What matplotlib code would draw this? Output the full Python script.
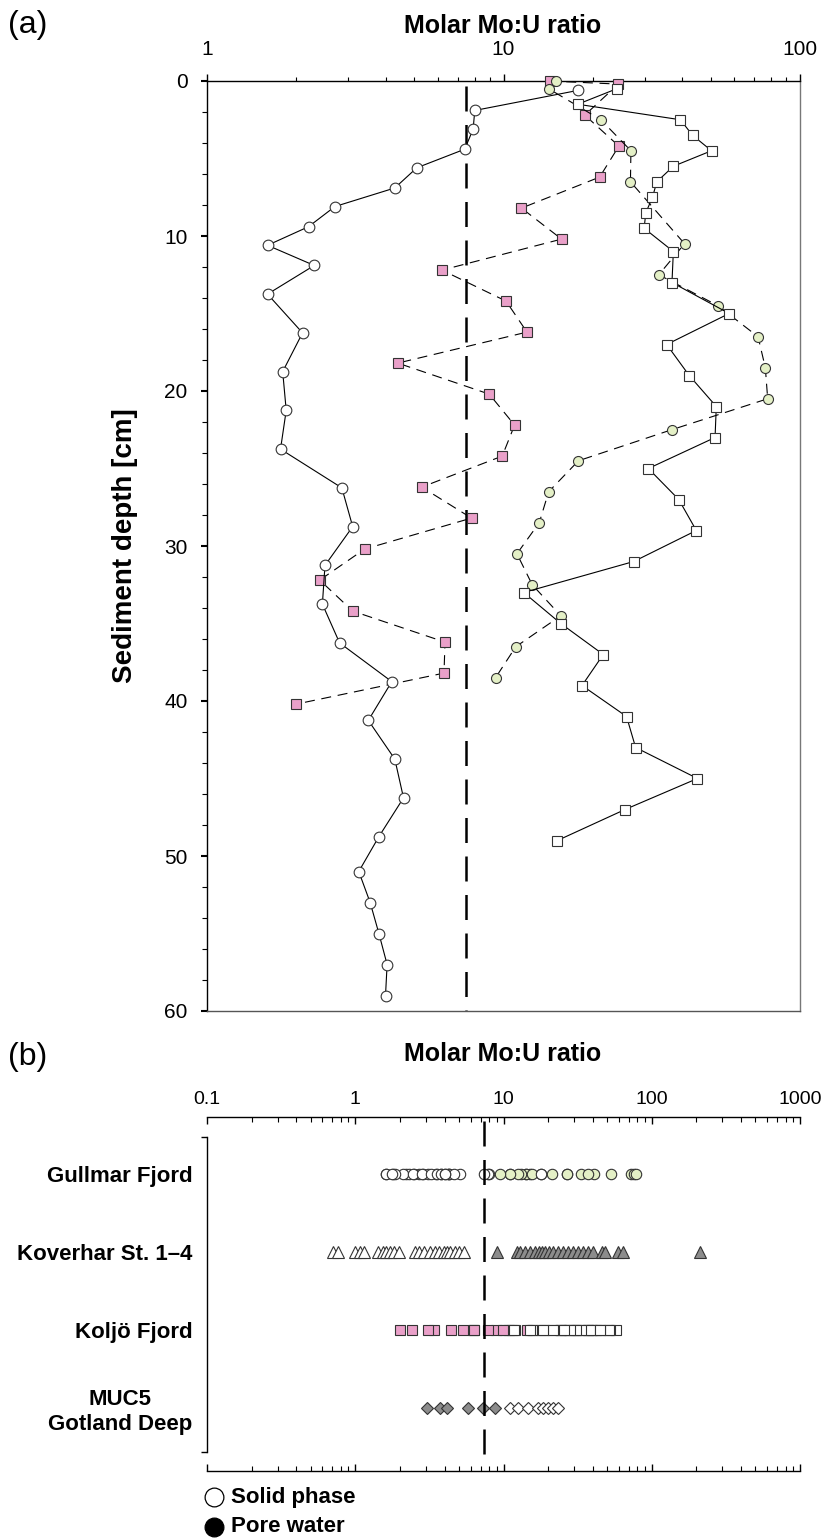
import matplotlib
matplotlib.use("Agg")
import matplotlib.pyplot as plt
from matplotlib.ticker import NullFormatter, FixedLocator
from matplotlib.lines import Line2D
import matplotlib.transforms as mtransforms

plt.rcParams['font.family'] = ['Liberation Sans', 'DejaVu Sans']

# ---- panel (a): depth profiles ----
# Gullmar Fjord, solid phase (open circles)
gf_solid_depth = [0.6, 1.9, 3.1, 4.4, 5.6, 6.9, 8.1, 9.4, 10.6, 11.9,
                  13.75, 16.25, 18.75, 21.25, 23.75, 26.25, 28.75, 31.25, 33.75, 36.25,
                  38.75, 41.25, 43.75, 46.25, 48.75, 51, 53, 55, 57, 59]
gf_solid = [17.9, 8.0, 7.9, 7.4, 5.1, 4.3, 2.7, 2.2, 1.6, 2.3,
            1.6, 2.1, 1.8, 1.85, 1.77, 2.85, 3.1, 2.5, 2.45, 2.8,
            4.2, 3.5, 4.3, 4.6, 3.8, 3.25, 3.55, 3.8, 4.05, 4.0]

# Gullmar Fjord, pore water (green circles)
gf_pw_depth = [0, 0.5, 2.5, 4.5, 6.5, 10.5, 12.5, 14.5, 16.5, 18.5,
               20.5, 22.5, 24.5, 26.5, 28.5, 30.5, 32.5, 34.5, 36.5, 38.5]
gf_pw = [15.0, 14.2, 21.3, 26.9, 26.8, 40.8, 33.4, 52.9, 72.2, 76.4,
         77.8, 36.9, 17.9, 14.2, 13.2, 11.1, 12.5, 15.6, 11.0, 9.4]

# Koljö Fjord, solid phase (open squares)
kf_solid_depth = [0.5, 1.5, 2.5, 3.5, 4.5, 5.5, 6.5, 7.5, 8.5, 9.5,
                  11, 13, 15, 17, 19, 21, 23, 25, 27, 29,
                  31, 33, 35, 37, 39, 41, 43, 45, 47, 49]
kf_solid = [24.1, 17.8, 39.5, 43.4, 50.3, 37.4, 32.9, 31.8, 30.2, 29.8,
            37.4, 37.0, 57.7, 35.5, 42.3, 52.2, 51.7, 30.8, 39.0, 44.7,
            27.5, 11.7, 15.6, 21.7, 18.4, 26.0, 27.9, 45.1, 25.7, 15.2]

# Koljö Fjord, pore water (pink squares)
kf_pw_depth = [0, 0.2, 2.2, 4.2, 6.2, 8.2, 10.2, 12.2, 14.2, 16.2, 18.2,
               20.2, 22.2, 24.2, 26.2, 28.2, 30.2, 32.2, 34.2, 36.2, 38.2, 40.2]
kf_pw = [14.3, 24.4, 18.8, 24.5, 21.1, 11.5, 15.7, 6.2, 10.2, 12.0, 4.4,
         8.95, 10.9, 9.9, 5.3, 7.8, 3.4, 2.4, 3.1, 6.35, 6.3, 2.0]

# ---- panel (b): other sites ----
kov_solid = [0.71, 0.76, 1.0, 1.07, 1.15, 1.43, 1.53, 1.61, 1.71, 1.82, 1.96,
             2.53, 2.71, 2.91, 3.19, 3.45, 3.69, 3.97, 4.14, 4.36, 4.71, 5.04, 5.42]
kov_pw = [9.1, 12.3, 13.0, 14.0, 15.1, 16.3, 17.4, 18.1, 19.0, 20.4, 21.7, 23.4,
          25.3, 27.4, 29.6, 32.0, 34.5, 37.3, 40.4, 45.9, 48.4, 59.6, 63.6, 212]
muc_pw = [3.03, 3.73, 4.14, 5.79, 7.31, 8.77]
muc_solid = [11.1, 12.6, 14.7, 17.2, 18.6, 20.1, 21.7, 23.4]

sites = ['Gullmar Fjord', 'Koverhar St. 1\u20134', 'Koljö Fjord', 'MUC5\nGotland Deep']
seawater_ratio = 7.45

pink = '#EAA0C9'
green = '#E4F0C6'
grey = '#8C8C8C'
edge = '#333333'

W, H = 838, 1540
fig = plt.figure(figsize=(W / 100, H / 100), dpi=100)


def fx(x):
    return x / W


def fy(y):
    return 1 - y / H


# ================= panel (a) =================
ax = fig.add_axes([fx(207), fy(1011), fx(800) - fx(207), fy(81) - fy(1011)])
ax.set_xscale('log')
ax.set_xlim(1, 100)
ax.set_ylim(60, 0)

ax.plot([seawater_ratio, seawater_ratio], [0.3, 60], color='black', lw=1.8,
        dashes=(10, 5.4), zorder=1)

ax.plot(kf_pw, kf_pw_depth, color='black', lw=0.8, dashes=(9, 6), marker='s', ms=7.2,
        mfc=pink, mec=edge, mew=0.8, clip_on=False, zorder=3)
ax.plot(gf_pw, gf_pw_depth, color='black', lw=0.8, dashes=(9, 6), marker='o', ms=7.2,
        mfc=green, mec=edge, mew=0.8, clip_on=False, zorder=4)
ax.plot(kf_solid, kf_solid_depth, color='black', lw=0.8, marker='s', ms=7.7,
        mfc='white', mec=edge, mew=0.8, clip_on=False, zorder=5)
ax.plot(gf_solid, gf_solid_depth, color='black', lw=0.8, marker='o', ms=7.7,
        mfc='white', mec=edge, mew=0.8, clip_on=False, zorder=6)

ax.xaxis.tick_top()
ax.set_xticks([1, 10, 100])
ax.set_xticklabels(['1', '10', '100'])
ax.xaxis.set_minor_formatter(NullFormatter())
ax.tick_params(axis='x', which='major', direction='out', length=5, width=1,
               pad=11, labelsize=15, top=True, bottom=False)
ax.tick_params(axis='x', which='minor', direction='out', length=3.2, width=0.8,
               top=True, bottom=False)
ax.set_yticks(range(0, 61, 10))
ax.yaxis.set_minor_locator(FixedLocator(range(0, 61, 2)))
ax.tick_params(axis='y', which='major', direction='out', length=4, width=1.5,
               pad=10, labelsize=15, left=True, right=False)
ax.tick_params(axis='y', which='minor', direction='out', length=3.5, width=0.8,
               left=True, right=False)
ax.spines['right'].set_color('#777777')
ax.spines['bottom'].set_color('#555555')
for s in ax.spines.values():
    s.set_linewidth(1)

fig.text(fx(503), fy(33), 'Molar Mo:U ratio', ha='center', va='baseline',
         fontsize=18, fontweight='bold')
fig.text(fx(125), fy(546), 'Sediment depth [cm]', ha='center', va='center',
         rotation=90, fontsize=20, fontweight='bold')
fig.text(fx(8), fy(33), '(a)', ha='left', va='baseline', fontsize=23)

# ================= panel (b) =================
bx = fig.add_axes([fx(207), fy(1452), fx(800) - fx(207), fy(1137) - fy(1452)])
bx.set_xscale('log')
bx.set_xlim(0.1, 1000)
bx.set_ylim(3.567, -0.482)

ms_b = 7.5
bx.plot(gf_pw, [0] * len(gf_pw), ls='none', marker='o', ms=ms_b, mfc=green, mec=edge, mew=0.8)
bx.plot(gf_solid, [0] * len(gf_solid), ls='none', marker='o', ms=ms_b, mfc='white', mec=edge, mew=0.8)
bx.plot(kov_solid, [1] * len(kov_solid), ls='none', marker='^', ms=8, mfc='white', mec=edge, mew=0.8)
bx.plot(kov_pw, [1] * len(kov_pw), ls='none', marker='^', ms=8, mfc=grey, mec=edge, mew=0.8)
bx.plot(kf_pw, [2] * len(kf_pw), ls='none', marker='s', ms=ms_b, mfc=pink, mec=edge, mew=0.8)
bx.plot(kf_solid, [2] * len(kf_solid), ls='none', marker='s', ms=ms_b, mfc='white', mec=edge, mew=0.8)
bx.plot(muc_pw, [3] * len(muc_pw), ls='none', marker='D', ms=6.5, mfc=grey, mec=edge, mew=0.8)
bx.plot(muc_solid, [3] * len(muc_solid), ls='none', marker='D', ms=6.5, mfc='white', mec=edge, mew=0.8)

trans = mtransforms.blended_transform_factory(bx.transData, bx.transAxes)
bx.plot([seawater_ratio * 0.99, seawater_ratio * 0.99], [1.05, -0.01], transform=trans,
        color='black', lw=1.8, dashes=(10, 5.4), clip_on=False, zorder=10)

bx.spines['right'].set_visible(False)
bx.spines['top'].set_position(('outward', 14.5))
bx.spines['bottom'].set_position(('outward', 14))
for s in bx.spines.values():
    s.set_linewidth(1)

bx.set_xticks([0.1, 1, 10, 100, 1000])
bx.set_xticklabels(['0.1', '1', '10', '100', '1000'])
bx.xaxis.set_minor_formatter(NullFormatter())
bx.tick_params(axis='x', which='major', direction='in', length=5, width=1,
               top=True, bottom=True, labeltop=True, labelbottom=False,
               labelsize=14, pad=6.5)
bx.tick_params(axis='x', which='minor', direction='in', length=3.5, width=0.8,
               top=True, bottom=True)

bx.set_yticks(range(len(sites)))
bx.set_yticklabels(sites, fontsize=16, fontweight='bold', multialignment='center')
bx.yaxis.set_minor_locator(FixedLocator([3.567, -0.482]))
bx.tick_params(axis='y', which='major', length=0, pad=10.5)
bx.tick_params(axis='y', which='minor', direction='out', length=4, width=1)

fig.text(fx(503), fy(1061), 'Molar Mo:U ratio', ha='center', va='baseline',
         fontsize=18, fontweight='bold')
fig.text(fx(8), fy(1065), '(b)', ha='left', va='baseline', fontsize=23)

# legend
fig.add_artist(Line2D([fx(214)], [fy(1497)], marker='o', ms=13.5, mfc='white',
                      mec='black', mew=0.9, ls='none', transform=fig.transFigure))
fig.add_artist(Line2D([fx(214)], [fy(1527)], marker='o', ms=13.5, mfc='black',
                      mec='black', mew=0.9, ls='none', transform=fig.transFigure))
fig.text(fx(231), fy(1497), 'Solid phase', ha='left', va='center',
         fontsize=16, fontweight='bold')
fig.text(fx(231), fy(1527), 'Pore water', ha='left', va='center',
         fontsize=16, fontweight='bold')

fig.savefig('out.png', dpi=100)
